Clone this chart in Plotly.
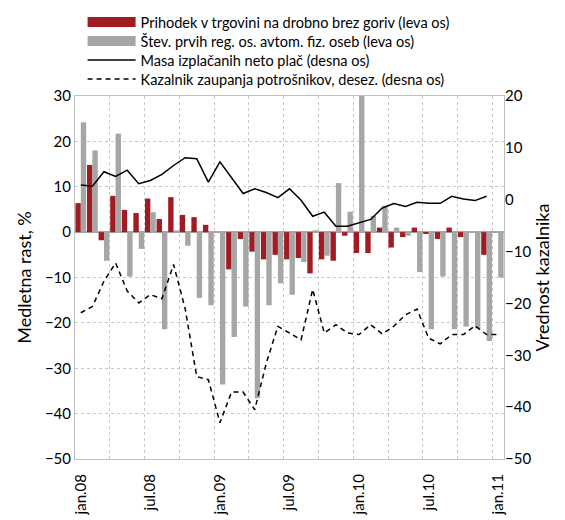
import plotly.graph_objects as go

# ---- data (monthly, jan.08 .. jan.11) ----
months = ["jan.08","feb.08","mar.08","apr.08","maj.08","jun.08","jul.08","avg.08","sep.08","okt.08","nov.08","dec.08",
          "jan.09","feb.09","mar.09","apr.09","maj.09","jun.09","jul.09","avg.09","sep.09","okt.09","nov.09","dec.09",
          "jan.10","feb.10","mar.10","apr.10","maj.10","jun.10","jul.10","avg.10","sep.10","okt.10","nov.10","dec.10",
          "jan.11"]
tick_labels = ["jan.08", "jul.08", "jan.09", "jul.09", "jan.10", "jul.10", "jan.11"]

retail = [6.4, 14.8, -1.8, 8.0, 4.9, 4.2, 7.4, 2.9, 7.7, 3.8, 3.3, 1.6,
          0.0, -8.2, -1.5, -4.3, -6.0, -5.0, -6.0, -5.7, -9.1, -6.0, -6.3, -0.8,
          -4.6, -4.6, 1.0, -3.4, -1.1, 1.0, -0.4, -1.5, 1.0, -1.1, 0.0, -5.0,
          None]
cars = [24.2, 18.0, -6.3, 21.7, -9.8, -3.7, 4.4, -21.4, 0.4, -3.0, -14.5, -16.1,
        -33.6, -23.1, -16.4, -36.6, -16.1, -11.3, -13.8, -6.6, 0.4, -5.2, 10.8, 4.5,
        32.0, 3.6, 5.8, 1.0, -0.8, -8.8, -21.4, -9.8, -21.4, -20.8, -21.2, -24.0,
        -10.0]
wages = [2.85, 2.6, 5.4, 4.5, 5.7, 3.1, 3.7, 4.9, 6.6, 8.1, 7.9, 3.4,
         7.3, 4.3, 1.2, 2.1, 1.4, 0.4, 2.1, -0.1, -3.2, -2.4, -5.1, -5.1,
         -4.4, -3.8, -1.6, -0.75, -1.3, -0.5, -0.7, -0.7, 0.66, 0.15, -0.17, 0.66,
         None]
confidence = [-21.8, -20.6, -15.7, -12.2, -17.6, -19.9, -18.3, -19.1, -12.5, -21.0, -34.1, -34.7,
              -43.0, -37.1, -37.1, -40.5, -31.5, -24.4, -25.7, -27.0, -17.3, -25.7, -24.1, -25.7,
              -26.0, -24.1, -25.9, -24.4, -22.2, -21.1, -26.7, -27.8, -26.0, -26.0, -24.3, -26.0,
              -26.0]

names = ["Prihodek v trgovini na drobno brez goriv (leva os)",
         "Štev. prvih reg. os. avtom. fiz. oseb (leva os)",
         "Masa izplačanih neto plač (desna os)",
         "Kazalnik zaupanja potrošnikov, desez. (desna os)"]

RED = "#a01c22"
GRAY = "#a6a6a6"
x = list(range(len(months)))
tick_pos = [months.index(t) for t in tick_labels]

fig = go.Figure()
fig.add_trace(go.Bar(x=x, y=retail, marker=dict(color=RED, line=dict(width=0)), showlegend=False, name=names[0]))
fig.add_trace(go.Bar(x=x, y=cars, marker=dict(color=GRAY, line=dict(width=0)), showlegend=False, name=names[1]))
# legend swatches for the bar series
fig.add_trace(go.Scatter(x=[None], y=[None], mode="lines", line=dict(color=RED, width=12),
                         name=names[0], legend="legend"))
fig.add_trace(go.Scatter(x=[None], y=[None], mode="lines", line=dict(color=GRAY, width=12),
                         name=names[1], legend="legend2"))
fig.add_trace(go.Scatter(x=x, y=wages, mode="lines", line=dict(color="black", width=1.5), yaxis="y2",
                         name=names[2], legend="legend3"))
fig.add_trace(go.Scatter(x=x, y=confidence, mode="lines", line=dict(color="black", width=1.5, dash="5px,4px"),
                         yaxis="y2", name=names[3], legend="legend4"))

leg_common = dict(x=0.0177, xanchor="left", yanchor="middle", yref="container", itemwidth=48,
                  bgcolor="rgba(0,0,0,0)", font=dict(size=14.5))

fig.update_layout(
    width=557, height=512,
    margin=dict(l=67, r=61, t=88, b=61, autoexpand=False),
    barmode="group", bargap=0.07, bargroupgap=0,
    plot_bgcolor="white", paper_bgcolor="white",
    font=dict(family="Lato", size=15, color="black"),
    legend=dict(y=0.9727, **leg_common),
    legend2=dict(y=0.9355, **leg_common),
    legend3=dict(y=0.8984, **leg_common),
    legend4=dict(y=0.8613, **leg_common),
    xaxis=dict(range=[-0.5, len(months) - 0.5], tickmode="array", tickvals=tick_pos, ticktext=tick_labels,
               tickangle=-90, showgrid=False, zeroline=False, ticks="", ticklabelstandoff=8,
               showline=True, linecolor="#bfbfbf", linewidth=1, mirror=True,
               minor=dict(tickvals=[i - 0.5 for i in range(3, len(months), 3)], showgrid=True,
                          gridcolor="#c8c8c8", griddash="dot", gridwidth=1, ticks="")),
    yaxis=dict(range=[-50, 30], dtick=10, showgrid=True, gridcolor="#c8c8c8", griddash="dot", gridwidth=1,
               zeroline=True, zerolinecolor="#a6a6a6", zerolinewidth=2,
               showline=True, linecolor="#bfbfbf", linewidth=1, mirror=True, ticks="",
               title=dict(text="Medletna rast, %", standoff=8)),
    yaxis2=dict(range=[-50, 20], dtick=10, overlaying="y", side="right", showgrid=False, zeroline=False,
                ticks="", title=dict(text="Vrednost kazalnika", standoff=0)),
)

fig.write_html("out.html")
